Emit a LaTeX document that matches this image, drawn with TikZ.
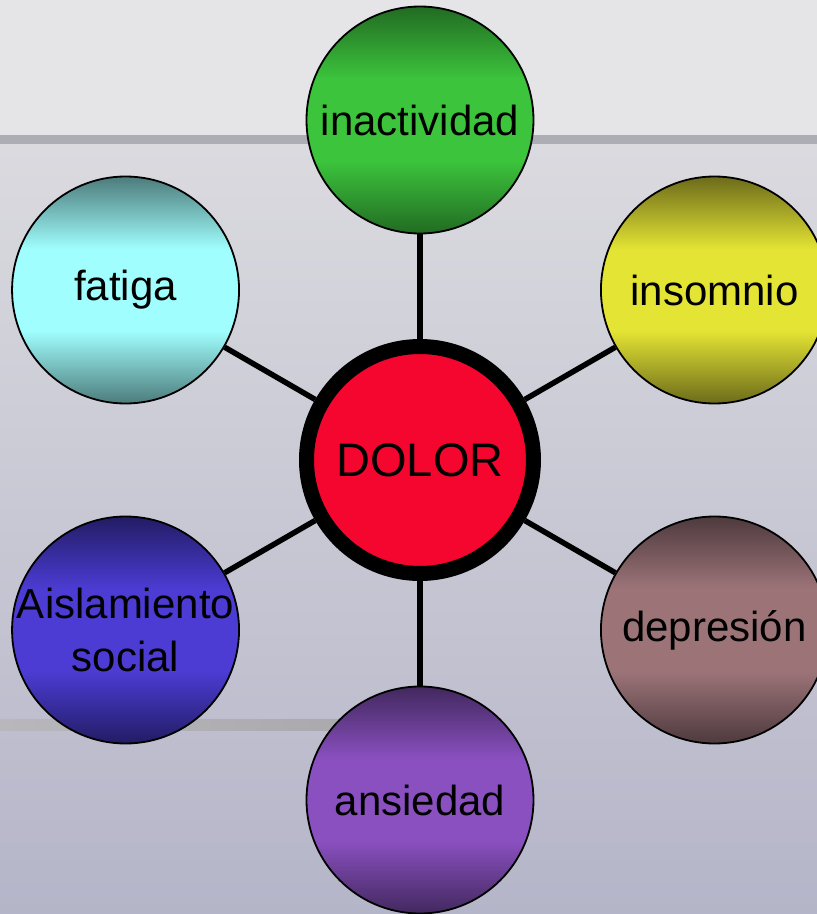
\documentclass[tikz,border=0pt]{standalone}
\usepackage{fontspec}
\setmainfont{Liberation Sans}
\usetikzlibrary{positioning}

\definecolor{bgtop}{HTML}{E5E5E8}
\definecolor{bgband}{HTML}{ADADB5}
\definecolor{bgmid}{HTML}{DADADF}
\definecolor{bglow}{HTML}{B5B5C9}
\definecolor{stripeL}{HTML}{B8B8BC}
\definecolor{stripeR}{HTML}{A6A6AB}
\definecolor{dolorred}{HTML}{F5062E}

\colorlet{balldark}{black}
\colorlet{balllight}{white}
\pgfdeclareverticalshading[balldark,balllight]{ball}{100bp}{color(0bp)=(balldark); color(25bp)=(balldark); color(41bp)=(balllight); color(59bp)=(balllight); color(75bp)=(balldark); color(100bp)=(balldark)}

\tikzset{
	ball/.style 2 args={circle, draw=black, line width=1.8pt, minimum size=227pt, inner sep=0pt,
		align=center, font=\fontsize{42}{53}\selectfont,
		/utils/exec={\definecolor{balldark}{HTML}{#1}\definecolor{balllight}{HTML}{#2}}, shading=ball},
	core/.style={circle, draw=black, fill=dolorred, line width=15pt, minimum size=227pt, inner sep=0pt,
		font=\fontsize{47}{50}\selectfont},
	link/.style={line width=5.5pt, black}
}

\begin{document}
\begin{tikzpicture}[x=1pt, y=1pt]
	\useasboundingbox (-420,-454) rectangle (397,460);
	\clip (-420,-454) rectangle (397,460);
	
	% background
	\fill[bgtop] (-420,325) rectangle (397,460);
	\fill[bgband] (-420,315) rectangle (397,325);
	\shade[top color=bgmid, bottom color=bglow] (-420,-454) rectangle (397,315);
	\shade[left color=stripeL, right color=stripeR] (-420,-270) rectangle (0,-259);
	
	\node[core] (dolor) at (0,0) {DOLOR};
	\node[ball={226B22}{3CC43C}] (inact) at (90:340) {inactividad};
	\node[ball={6C6B1B}{E4E434}] (insom) at (30:340) {insomnio};
	\node[ball={4E3A3E}{9C7478}] (depre) at (-30:340) {depresión};
	\node[ball={42285E}{8A50C0}] (ansie) at (-90:340) {ansiedad};
	\node[ball={221C64}{4C3CD4}, inner sep=-12pt] (aisla) at (210:340) {Aislamiento\\social};
	\node[ball={4D7B7B}{A0FEFE}] (fatig) at (150:340) {fatiga};
	
	\draw[link] (dolor) -- (inact);
	\draw[link] (dolor) -- (insom);
	\draw[link] (dolor) -- (depre);
	\draw[link] (dolor) -- (ansie);
	\draw[link] (dolor) -- (aisla);
	\draw[link] (dolor) -- (fatig);
\end{tikzpicture}
\end{document}
